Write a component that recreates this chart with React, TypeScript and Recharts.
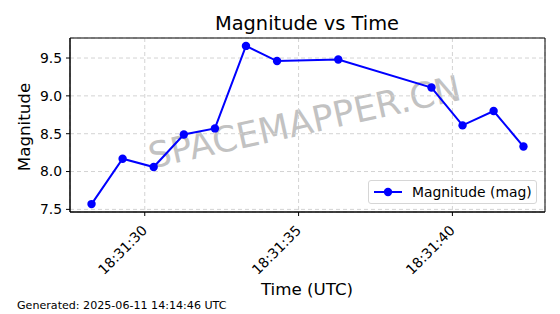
import React from "react";
import {
  LineChart,
  Line,
  XAxis,
  YAxis,
  CartesianGrid,
  ReferenceArea,
} from "recharts";

// seconds after 18:31:00 UTC
const times = [28.27, 29.28, 30.29, 31.27, 32.28, 33.29, 34.3, 36.29, 39.32, 40.33, 41.34, 42.31];
const magnitudes = [7.57, 8.17, 8.06, 8.49, 8.57, 9.66, 9.46, 9.48, 9.11, 8.61, 8.8, 8.33];
const xTicks = [30, 35, 40];
const yTicks = [7.5, 8.0, 8.5, 9.0, 9.5];
const xDomain: [number, number] = [27.57, 43.01];
const yDomain: [number, number] = [7.4655, 9.7645];

const FONT = "'DejaVu Sans', sans-serif";
const BLUE = "#0000ff";

const data = times.map((t, i) => ({ t, mag: magnitudes[i] }));

const fmtTime = (s: number) => `18:31:${String(Math.round(s)).padStart(2, "0")}`;

function TimeTick(props: any) {
  const { x, y, payload } = props;
  return (
    <g transform={`translate(${x - 4},${y + 6})`}>
      <text
        transform="rotate(-45)"
        textAnchor="end"
        dominantBaseline="hanging"
        fontFamily={FONT}
        fontSize={13.9}
        fill="#000"
      >
        {fmtTime(payload.value)}
      </text>
    </g>
  );
}

function LegendBox() {
  return (
    <div
      style={{
        position: "absolute",
        left: 368,
        top: 180,
        width: 169,
        height: 24,
        border: "1px solid #d6d6d6",
        borderRadius: 3,
        background: "rgba(255,255,255,0.8)",
        display: "flex",
        alignItems: "center",
        fontFamily: FONT,
        fontSize: 13.9,
        color: "#000",
        boxSizing: "border-box",
      }}
    >
      <svg width={43} height={22}>
        <line x1={5} x2={33} y1={11} y2={11} stroke={BLUE} strokeWidth={2} />
        <circle cx={19} cy={11} r={4.2} fill={BLUE} />
      </svg>
      <span>Magnitude (mag)</span>
    </div>
  );
}

export default function App() {
  return (
    <div style={{ position: "absolute", left: 0, top: 0, width: 560, height: 314, background: "#fff" }}>
      <svg
        width={560}
        height={314}
        style={{ position: "absolute", left: 0, top: 0, pointerEvents: "none" }}
      >
        <text
          x={307}
          y={134}
          textAnchor="middle"
          transform="rotate(-12.5 307 134)"
          fontFamily={FONT}
          fontSize={35.5}
          fill="#c2c2c2"
        >
          SPACEMAPPER.CN
        </text>
      </svg>
      <div style={{ position: "absolute", left: 0, top: 0 }}>
        <LineChart
          width={560}
          height={314}
          data={data}
          margin={{ top: 38, right: 15, left: 0, bottom: 0 }}
        >
          <CartesianGrid stroke="#d3d3d3" strokeDasharray="4 3" />
          <XAxis
            type="number"
            dataKey="t"
            domain={xDomain}
            ticks={xTicks}
            allowDataOverflow
            height={102}
            tickSize={4}
            tickLine={{ stroke: "#000" }}
            axisLine={{ stroke: "#000" }}
            tick={<TimeTick />}
          />
          <YAxis
            type="number"
            domain={yDomain}
            ticks={yTicks}
            allowDataOverflow
            width={70}
            tickSize={4}
            tickMargin={4}
            tickLine={{ stroke: "#000" }}
            axisLine={{ stroke: "#000" }}
            tickFormatter={(v: number) => v.toFixed(1)}
            tick={{ fontFamily: FONT, fontSize: 13.9, fill: "#000" }}
          />
          <ReferenceArea
            x1={xDomain[0]}
            x2={xDomain[1]}
            y1={yDomain[0]}
            y2={yDomain[1]}
            fill="none"
            stroke="#000"
            strokeWidth={1}
            ifOverflow="visible"
          />
          <Line
            type="linear"
            dataKey="mag"
            name="Magnitude (mag)"
            stroke={BLUE}
            strokeWidth={2}
            dot={{ r: 4.2, fill: BLUE, stroke: BLUE, strokeWidth: 0 }}
            activeDot={false}
            isAnimationActive={false}
          />
        </LineChart>
      </div>
      <LegendBox />
      <svg
        width={560}
        height={314}
        style={{ position: "absolute", left: 0, top: 0, pointerEvents: "none" }}
      >
        <text x={307} y={30} textAnchor="middle" fontFamily={FONT} fontSize={19.4} fill="#000">
          Magnitude vs Time
        </text>
        <text
          x={30}
          y={127}
          textAnchor="middle"
          transform="rotate(-90 30 127)"
          fontFamily={FONT}
          fontSize={16.7}
          fill="#000"
        >
          Magnitude
        </text>
        <text x={307} y={295} textAnchor="middle" fontFamily={FONT} fontSize={16.7} fill="#000">
          Time (UTC)
        </text>
        <text x={17} y={309} fontFamily={FONT} fontSize={11.1} fill="#000">
          Generated: 2025-06-11 14:14:46 UTC
        </text>
      </svg>
    </div>
  );
}
